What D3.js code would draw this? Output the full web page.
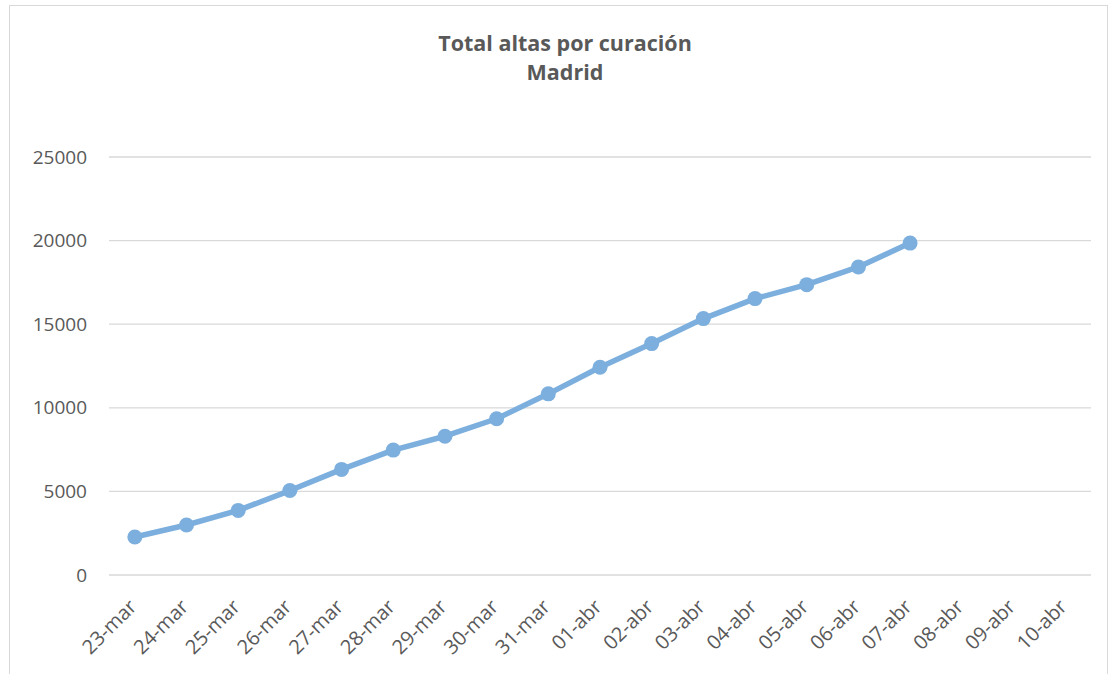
<!DOCTYPE html>
<html>
<head>
<meta charset="utf-8">
<script src="https://cdnjs.cloudflare.com/ajax/libs/d3/7.8.5/d3.min.js"></script>
<style>
  body { margin: 0; background: #fff; }
  text { font-family: "Open Sans", "Noto Sans", sans-serif; fill: #595959; }
</style>
</head>
<body>
<div id="chart"></div>
<script>
// chart data
var fechas = ['23-mar', '24-mar', '25-mar', '26-mar', '27-mar', '28-mar', '29-mar', '30-mar', '31-mar',
              '01-abr', '02-abr', '03-abr', '04-abr', '05-abr', '06-abr', '07-abr', '08-abr', '09-abr', '10-abr'];
var altas = [2270, 2990, 3865, 5050, 6315, 7470, 8300, 9345, 10835,
             12425, 13840, 15335, 16530, 17365, 18425, 19850];
var yTicks = [0, 5000, 10000, 15000, 20000, 25000];
var titulo = ['Total altas por curación', 'Madrid'];

var width = 1113, height = 674;
var margin = { top: 157, right: 22, bottom: 99, left: 109 };

var svg = d3.select('#chart').append('svg')
  .attr('width', width)
  .attr('height', height);

// chart frame
svg.append('rect')
  .attr('x', 9.5).attr('y', 5.5)
  .attr('width', 1098).attr('height', 680)
  .attr('fill', 'none')
  .attr('stroke', '#d9d9d9');

var x = d3.scaleBand()
  .domain(fechas)
  .range([margin.left, width - margin.right]);

var y = d3.scaleLinear()
  .domain([0, 25000])
  .range([height - margin.bottom, margin.top]);

// gridlines
svg.append('g')
  .selectAll('line')
  .data(yTicks).enter()
  .append('line')
    .attr('x1', margin.left)
    .attr('x2', width - margin.right)
    .attr('y1', function(d) { return y(d); })
    .attr('y2', function(d) { return y(d); })
    .attr('stroke', '#d9d9d9')
    .attr('stroke-width', 1.3);

// y axis labels
var yAxis = d3.axisLeft(y).tickValues(yTicks).tickSize(0).tickPadding(22).tickFormat(d3.format('d'));
svg.append('g')
  .attr('transform', 'translate(' + margin.left + ',0)')
  .call(yAxis)
  .call(function(g) { g.select('.domain').remove(); })
  .selectAll('text')
    .style('font-size', '19px')
    .attr('fill', '#595959');

// x axis labels, rotated like the original
var xAxis = d3.axisBottom(x).tickSize(0).tickPadding(0);
svg.append('g')
  .attr('transform', 'translate(0,' + (height - margin.bottom) + ')')
  .call(xAxis)
  .call(function(g) { g.select('.domain').remove(); })
  .selectAll('text')
    .style('font-size', '20px')
    .attr('fill', '#595959')
    .attr('text-anchor', 'end')
    .attr('dy', 0)
    .attr('transform', 'translate(3,33) rotate(-45)');

// series
var serie = altas.map(function(v, i) { return { fecha: fechas[i], valor: v }; });

var line = d3.line()
  .x(function(d) { return x(d.fecha) + x.bandwidth() / 2; })
  .y(function(d) { return y(d.valor); });

svg.append('path')
  .datum(serie)
  .attr('d', line)
  .attr('fill', 'none')
  .attr('stroke', '#7cafdd')
  .attr('stroke-width', 5.5)
  .attr('stroke-linejoin', 'round')
  .attr('stroke-linecap', 'round');

svg.append('g')
  .selectAll('circle')
  .data(serie).enter()
  .append('circle')
    .attr('cx', function(d) { return x(d.fecha) + x.bandwidth() / 2; })
    .attr('cy', function(d) { return y(d.valor); })
    .attr('r', 7.5)
    .attr('fill', '#7cafdd');

// title
svg.append('g')
  .selectAll('text')
  .data(titulo).enter()
  .append('text')
    .attr('x', 565)
    .attr('y', function(d, i) { return 51 + i * 29; })
    .attr('text-anchor', 'middle')
    .style('font-size', '21.5px')
    .style('font-weight', 'bold')
    .text(function(d) { return d; });
</script>
</body>
</html>
